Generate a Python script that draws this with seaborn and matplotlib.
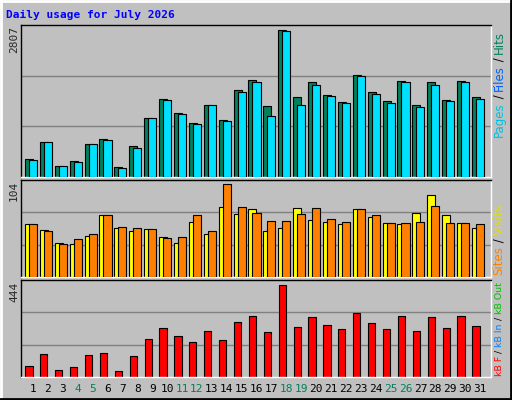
import matplotlib
matplotlib.use("Agg")
import matplotlib.pyplot as plt
import seaborn as sns
import pandas as pd
import numpy as np

days = list(range(1, 32))
hits = [344,663,204,300,625,727,191,587,1123,1486,1218,1027,1372,1085,1659,1850,1352,2807,1525,1812,1563,1435,1952,1627,1455,1831,1372,1812,1467,1831,1525]
files = [319,663,204,281,625,702,172,549,1123,1467,1199,1008,1372,1065,1620,1812,1161,2788,1372,1754,1544,1410,1927,1582,1410,1812,1333,1754,1448,1812,1486]
visits = [59,53,38,37,46,70,55,52,54,45,38,62,48,78,71,76,51,55,77,64,62,59,76,67,60,59,72,92,70,61,55]
sites = [59,51,37,43,48,69,56,55,54,44,45,70,51,104,78,72,63,63,71,77,65,62,76,69,61,61,62,80,61,61,59]
kbytes = [55,109,36,50,104,113,31,99,181,235,196,167,220,177,264,293,216,444,240,288,250,230,308,259,230,293,220,288,235,293,245]
weekends = [4,5,11,12,18,19,25,26]
title = "Daily usage for July 2026"

sns.set_style("white")
plt.rcParams['font.family'] = ['DejaVu Sans Mono']
BG = "#C0C0C0"
fig = plt.figure(figsize=(5.12, 4.0), dpi=100, facecolor=BG)
W, H = 512, 400
def ax_at(x0, y0, x1, y1):
    return fig.add_axes([x0/W, 1-y1/H, (x1-x0)/W, (y1-y0)/H])

axes = [ax_at(21, 25, 491, 177), ax_at(21, 180, 491, 277), ax_at(21, 280, 491, 377)]
XL = (0.195, 31.74)
d = np.array(days)
bw, off = 0.54, 0.27
for ax in axes:
    ax.set_facecolor(BG)
    ax.set_xlim(*XL)
    ax.set_xticks([]); ax.set_yticks([])
    for s in ax.spines.values():
        s.set_color("black"); s.set_linewidth(1)
    ax.spines['right'].set_color("white"); ax.spines['bottom'].set_color("white")

def grid(ax, top):
    ax.set_ylim(0, top)
    for f in (1/3, 2/3):
        ax.axhline(top*f, color="#808080", lw=1, zorder=0)

a = axes[0]; grid(a, max(hits)*1.035)
a.bar(d-off, hits, width=bw, color="#00805C", edgecolor="black", lw=0.8, zorder=2)
a.bar(d, files, width=bw, color="#00E0FF", edgecolor="black", lw=0.8, zorder=3)
a = axes[1]; grid(a, max(sites)*1.045)
a.bar(d-off, visits, width=bw, color="#FFFF00", edgecolor="black", lw=0.8, zorder=2)
a.bar(d, sites, width=bw, color="#FF8000", edgecolor="black", lw=0.8, zorder=3)
a = axes[2]; grid(a, max(kbytes)*1.05)
df = pd.DataFrame({"day": d - off, "kB": kbytes})
sns.barplot(data=df, x="day", y="kB", native_scale=True, width=bw*0.9, color="#FF0000",
            saturation=1, edgecolor="black", linewidth=0.8, ax=a, zorder=2)
a.set_xlim(*XL); a.set_xlabel(""); a.set_ylabel(""); a.set_xticks([]); a.set_yticks([])

for dd in days:
    x = 33 + (dd-1)*14.9
    fig.text(x/W, 1-389/H, str(dd), ha="center", va="center", fontsize=8,
             color="#00805C" if dd in weekends else "black")

fig.text(6/W, 1-15/H, title, color="#0000FF", fontsize=8, fontweight="bold", va="center")
for lbl, y in (("2807", 26), ("104", 181), ("444", 282)):
    fig.text(14/W, 1-y/H, lbl, rotation=90, ha="center", va="top", fontsize=8)

renderer = fig.canvas.get_renderer()
def vlabel(parts, ytop, ybot, x=499):
    def place(fs):
        y = ybot
        ts = []
        for p, c in parts:
            t = fig.text(x/W, 1-y/H, p, rotation=90, ha="center", va="bottom",
                         fontsize=fs, color=c, family="DejaVu Sans")
            ts.append(t)
            y -= t.get_window_extent(renderer).height
        return ts, ybot - y
    ts, tot = place(8)
    fs = min(8 * (ybot-ytop)/tot, 8.5)
    for t in ts: t.remove()
    place(fs)
vlabel([("Pages", "#00C0E0"), (" / ", "#000000"), ("Files", "#0060FF"), (" / ", "#000000"), ("Hits", "#00805C")], 28, 137)
vlabel([("Sites", "#FF8000"), (" / ", "#000000"), ("Visits", "#E0E000")], 178, 275)
vlabel([("kB F", "#FF0000"), (" / ", "#000000"), ("kB In", "#0080FF"), (" / ", "#000000"), ("kB Out", "#00C000")], 282, 376)

fig.add_artist(plt.Line2D([0, 1], [1-1/H, 1-1/H], color="white", lw=2))
fig.add_artist(plt.Line2D([1/W, 1/W], [0, 1], color="white", lw=2))
fig.add_artist(plt.Line2D([0, 1], [1/H, 1/H], color="black", lw=2))
fig.add_artist(plt.Line2D([1-1/W, 1-1/W], [0, 1], color="black", lw=2))
fig.savefig("out.png", dpi=100, facecolor=BG)
